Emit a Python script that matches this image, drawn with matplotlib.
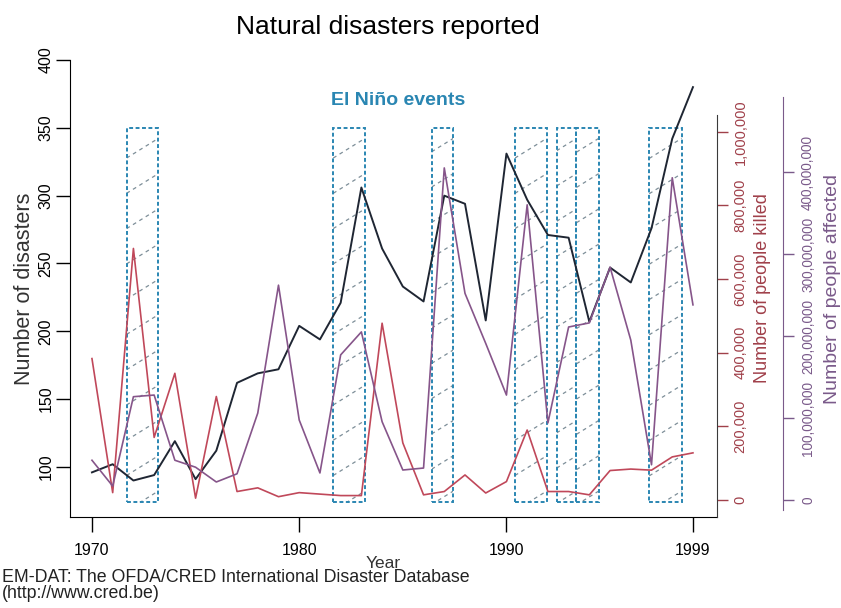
import matplotlib
matplotlib.use("Agg")
import matplotlib.pyplot as plt
from matplotlib.patches import Rectangle
from matplotlib.ticker import FuncFormatter

# =========================
# Daten
# =========================
years = list(range(1970, 2000))

disasters = [96, 102, 90, 94, 119, 91, 112, 162, 169, 172,
             204, 194, 221, 306, 261, 233, 222, 300, 294, 208,
             331, 297, 271, 269, 207, 247, 236, 276, 342, 380]

killed = [384000, 20000, 683000, 170000, 344000, 5000, 281000, 23000, 33000, 9000,
          20000, 16000, 12000, 12000, 480000, 155000, 14000, 23000, 68000, 19000,
          50000, 190000, 23000, 23000, 14000, 80000, 84000, 81000, 117000, 128000]

affected = [48.5e6, 17e6, 126e6, 128e6, 48.5e6, 40e6, 22e6, 32e6, 106e6, 262e6,
            97.6e6, 33e6, 177e6, 205e6, 95.5e6, 36.6e6, 39e6, 405e6, 252e6, 191e6,
            128e6, 360e6, 94e6, 211e6, 216e6, 284e6, 195e6, 43e6, 393e6, 238e6]

# El Nino Phasen (Beginn, Ende in Jahren)
nino_start = [1971.67, 1981.64, 1986.39, 1990.41, 1992.42, 1993.38, 1996.89]
nino_end = [1973.20, 1983.17, 1987.43, 1991.94, 1993.38, 1994.45, 1998.45]
nino_low, nino_high = 74.2, 350

x_ticks = [1970, 1980, 1990, 1999]
left_ticks = list(range(100, 401, 50))
killed_ticks = list(range(0, 1000001, 200000))
affected_ticks = [0, 100e6, 200e6, 300e6, 400e6]

# Farben
C_DIS = "#1f2633"
C_KILL = "#c0485a"
C_AFF = "#86558a"
C_KILL_TXT = "#a0404a"
C_AFF_TXT = "#7a5a8a"
C_NINO = "#2a86b2"
C_HATCH = "#7d8e98"

plt.rcParams["font.family"] = ["Liberation Sans", "DejaVu Sans"]

W, H = 841, 608
fig = plt.figure(figsize=(W / 100, H / 100), dpi=100)
ax = fig.add_axes([70 / W, 91 / H, 647 / W, 457 / H])

ax.set_xlim(1968.94, 2000.16)
ax.set_ylim(63.1, 400)

# =========================
# El Nino Kaesten mit Schraffur
# =========================
px_per_year = 647 / (2000.16 - 1968.94)
px_per_unit = 457 / (400 - 63.1)
slope = 0.62 * px_per_year / px_per_unit   # Einheiten pro Jahr
step = 26
for s, e in zip(nino_start, nino_end):
    clip = Rectangle((s, nino_low), e - s, nino_high - nino_low, fill=False, lw=0)
    ax.add_patch(clip)
    c = nino_low - slope * (e - s) + 8
    while c < nino_high:
        ln, = ax.plot([s, e], [c, c + slope * (e - s)], color=C_HATCH, lw=0.9,
                      linestyle=(0, (3, 3)), zorder=1)
        ln.set_clip_path(clip)
        c += step
    ax.add_patch(Rectangle((s, nino_low), e - s, nino_high - nino_low, fill=False,
                           edgecolor=C_NINO, lw=1.4, linestyle=(0, (2, 1.3)), zorder=2))

ax.text(1984.77, 370.5, "El Niño events", color=C_NINO, fontsize=14, fontweight="bold",
        ha="center", va="center")

ax.plot(years, disasters, color=C_DIS, lw=1.4, zorder=5)

ax.set_xticks(x_ticks)
ax.set_yticks(left_ticks)
ax.tick_params(axis="x", length=11, width=1, pad=8, labelsize=11.5)
ax.tick_params(axis="y", length=10, width=1, pad=2, labelsize=11.5, labelrotation=90)
for lab in ax.get_yticklabels():
    lab.set_va("center")
ax.spines["top"].set_visible(False)
ax.spines["right"].set_visible(False)
ax.set_ylabel("Number of disasters", fontsize=15.5, color="#333333", va="center")
ax.yaxis.set_label_coords(-(70 - 25) / 647, 0.5)

# =========================
# Tote (rechte Achse 1)
# =========================
ax2 = ax.twinx()
ax2.set_ylim(-46160, 1194680)
ax2.plot(years, killed, color=C_KILL, lw=1.2, zorder=4)
ax2.set_yticks(killed_ticks)
ax2.yaxis.set_major_formatter(FuncFormatter(lambda v, p: f"{int(v):,}"))
ax2.tick_params(axis="y", length=8, width=1, color=C_KILL_TXT, labelcolor=C_KILL_TXT,
                labelsize=10.5, labelrotation=90, pad=4)
for lab in ax2.get_yticklabels():
    lab.set_va("center")
for sp in ["top", "left", "bottom"]:
    ax2.spines[sp].set_visible(False)
ax2.spines["right"].set_bounds(-46160, 1.045e6)
ax2.spines["right"].set_color("#3a3a3a")
ax2.set_ylabel("Number of people killed", fontsize=13, color=C_KILL_TXT, va="center")
ax2.yaxis.set_label_coords((763 - 70) / 647, 0.5)

# =========================
# Betroffene (rechte Achse 2)
# =========================
ax3 = ax.twinx()
ax3.set_ylim(-20.7e6, 536.6e6)
ax3.plot(years, affected, color=C_AFF, lw=1.2, zorder=4)
ax3.spines["right"].set_position(("axes", 1.102))
ax3.set_yticks(affected_ticks)
ax3.yaxis.set_major_formatter(FuncFormatter(lambda v, p: f"{int(v):,}"))
ax3.tick_params(axis="y", length=8, width=1, color=C_AFF_TXT, labelcolor=C_AFF_TXT,
                labelsize=9.8, labelrotation=90, pad=5)
for lab in ax3.get_yticklabels():
    lab.set_va("center")
for sp in ["top", "left", "bottom"]:
    ax3.spines[sp].set_visible(False)
ax3.spines["right"].set_bounds(-12e6, 491e6)
ax3.spines["right"].set_color(C_AFF_TXT)
ax3.set_ylabel("Number of people affected", fontsize=14, color=C_AFF_TXT, va="center")
ax3.yaxis.set_label_coords((833 - 70) / 647, 0.5)

# =========================
# Texte
# =========================
fig.text(388 / W, 1 - 27 / H, "Natural disasters reported", ha="center", va="center",
         fontsize=19)
fig.text(383 / W, 1 - 563 / H, "Year", ha="center", va="center", fontsize=12.5, color="#333333")
fig.text(2 / W, 1 - 578 / H, "EM-DAT: The OFDA/CRED International Disaster Database",
         ha="left", va="center", fontsize=12.8, color="#222222")
fig.text(2 / W, 1 - 594 / H, "(http://www.cred.be)", ha="left", va="center", fontsize=12.8,
         color="#222222")

fig.savefig("out.png", dpi=100)
